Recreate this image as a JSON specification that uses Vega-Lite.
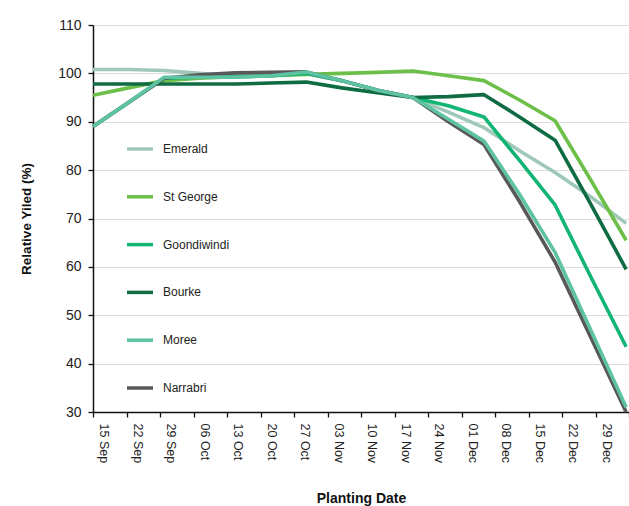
{
  "$schema": "https://vega.github.io/schema/vega-lite/v6.json",
  "width": 536,
  "height": 387,
  "autosize": {"type": "none"},
  "padding": {"left": 93, "top": 25, "right": 0, "bottom": 94},
  "background": "white",
  "config": {
    "font": "Liberation Sans",
    "view": {"stroke": null},
    "axis": {"labelFont": "Liberation Sans", "titleFont": "Liberation Sans", "labelColor": "#222", "titleColor": "#111"}
  },
  "datasets": {
    "yield": [
      {"site": "Emerald", "week": 0, "date": "15 Sep", "value": 100.8},
      {"site": "Emerald", "week": 1, "date": "22 Sep", "value": 100.8},
      {"site": "Emerald", "week": 2, "date": "29 Sep", "value": 100.6},
      {"site": "Emerald", "week": 3, "date": "06 Oct", "value": 100},
      {"site": "Emerald", "week": 4, "date": "13 Oct", "value": 99.5},
      {"site": "Emerald", "week": 5, "date": "20 Oct", "value": 99.5},
      {"site": "Emerald", "week": 6, "date": "27 Oct", "value": 100},
      {"site": "Emerald", "week": 7, "date": "03 Nov", "value": 98.5},
      {"site": "Emerald", "week": 8, "date": "10 Nov", "value": 96.5},
      {"site": "Emerald", "week": 9, "date": "17 Nov", "value": 95},
      {"site": "Emerald", "week": 10, "date": "24 Nov", "value": 92},
      {"site": "Emerald", "week": 11, "date": "01 Dec", "value": 88.8},
      {"site": "Emerald", "week": 12, "date": "08 Dec", "value": 84},
      {"site": "Emerald", "week": 13, "date": "15 Dec", "value": 79.5},
      {"site": "Emerald", "week": 14, "date": "22 Dec", "value": 74.5},
      {"site": "Emerald", "week": 15, "date": "29 Dec", "value": 69},

      {"site": "St George", "week": 0, "date": "15 Sep", "value": 95.5},
      {"site": "St George", "week": 1, "date": "22 Sep", "value": 97},
      {"site": "St George", "week": 2, "date": "29 Sep", "value": 98.5},
      {"site": "St George", "week": 3, "date": "06 Oct", "value": 99},
      {"site": "St George", "week": 4, "date": "13 Oct", "value": 99.3},
      {"site": "St George", "week": 5, "date": "20 Oct", "value": 99.5},
      {"site": "St George", "week": 6, "date": "27 Oct", "value": 99.8},
      {"site": "St George", "week": 7, "date": "03 Nov", "value": 100},
      {"site": "St George", "week": 8, "date": "10 Nov", "value": 100.2},
      {"site": "St George", "week": 9, "date": "17 Nov", "value": 100.5},
      {"site": "St George", "week": 10, "date": "24 Nov", "value": 99.5},
      {"site": "St George", "week": 11, "date": "01 Dec", "value": 98.5},
      {"site": "St George", "week": 12, "date": "08 Dec", "value": 94.5},
      {"site": "St George", "week": 13, "date": "15 Dec", "value": 90.2},
      {"site": "St George", "week": 14, "date": "22 Dec", "value": 78},
      {"site": "St George", "week": 15, "date": "29 Dec", "value": 65.5},

      {"site": "Goondiwindi", "week": 0, "date": "15 Sep", "value": 89},
      {"site": "Goondiwindi", "week": 1, "date": "22 Sep", "value": 94},
      {"site": "Goondiwindi", "week": 2, "date": "29 Sep", "value": 99},
      {"site": "Goondiwindi", "week": 3, "date": "06 Oct", "value": 99.2},
      {"site": "Goondiwindi", "week": 4, "date": "13 Oct", "value": 99.3},
      {"site": "Goondiwindi", "week": 5, "date": "20 Oct", "value": 99.5},
      {"site": "Goondiwindi", "week": 6, "date": "27 Oct", "value": 100},
      {"site": "Goondiwindi", "week": 7, "date": "03 Nov", "value": 98.5},
      {"site": "Goondiwindi", "week": 8, "date": "10 Nov", "value": 96.5},
      {"site": "Goondiwindi", "week": 9, "date": "17 Nov", "value": 95},
      {"site": "Goondiwindi", "week": 10, "date": "24 Nov", "value": 93.3},
      {"site": "Goondiwindi", "week": 11, "date": "01 Dec", "value": 91},
      {"site": "Goondiwindi", "week": 12, "date": "08 Dec", "value": 82},
      {"site": "Goondiwindi", "week": 13, "date": "15 Dec", "value": 72.8},
      {"site": "Goondiwindi", "week": 14, "date": "22 Dec", "value": 58},
      {"site": "Goondiwindi", "week": 15, "date": "29 Dec", "value": 43.5},

      {"site": "Bourke", "week": 0, "date": "15 Sep", "value": 97.8},
      {"site": "Bourke", "week": 1, "date": "22 Sep", "value": 97.8},
      {"site": "Bourke", "week": 2, "date": "29 Sep", "value": 97.8},
      {"site": "Bourke", "week": 3, "date": "06 Oct", "value": 97.8},
      {"site": "Bourke", "week": 4, "date": "13 Oct", "value": 97.8},
      {"site": "Bourke", "week": 5, "date": "20 Oct", "value": 98},
      {"site": "Bourke", "week": 6, "date": "27 Oct", "value": 98.2},
      {"site": "Bourke", "week": 7, "date": "03 Nov", "value": 97},
      {"site": "Bourke", "week": 8, "date": "10 Nov", "value": 96},
      {"site": "Bourke", "week": 9, "date": "17 Nov", "value": 95},
      {"site": "Bourke", "week": 10, "date": "24 Nov", "value": 95.2},
      {"site": "Bourke", "week": 11, "date": "01 Dec", "value": 95.6},
      {"site": "Bourke", "week": 12, "date": "08 Dec", "value": 91},
      {"site": "Bourke", "week": 13, "date": "15 Dec", "value": 86.2},
      {"site": "Bourke", "week": 14, "date": "22 Dec", "value": 73},
      {"site": "Bourke", "week": 15, "date": "29 Dec", "value": 59.5},

      {"site": "Narrabri", "week": 0, "date": "15 Sep", "value": 89},
      {"site": "Narrabri", "week": 1, "date": "22 Sep", "value": 94},
      {"site": "Narrabri", "week": 2, "date": "29 Sep", "value": 99},
      {"site": "Narrabri", "week": 3, "date": "06 Oct", "value": 99.7},
      {"site": "Narrabri", "week": 4, "date": "13 Oct", "value": 100.1},
      {"site": "Narrabri", "week": 5, "date": "20 Oct", "value": 100.2},
      {"site": "Narrabri", "week": 6, "date": "27 Oct", "value": 100.3},
      {"site": "Narrabri", "week": 7, "date": "03 Nov", "value": 98.5},
      {"site": "Narrabri", "week": 8, "date": "10 Nov", "value": 96.5},
      {"site": "Narrabri", "week": 9, "date": "17 Nov", "value": 95},
      {"site": "Narrabri", "week": 10, "date": "24 Nov", "value": 90},
      {"site": "Narrabri", "week": 11, "date": "01 Dec", "value": 85.3},
      {"site": "Narrabri", "week": 12, "date": "08 Dec", "value": 73.5},
      {"site": "Narrabri", "week": 13, "date": "15 Dec", "value": 61},
      {"site": "Narrabri", "week": 14, "date": "22 Dec", "value": 45.5},
      {"site": "Narrabri", "week": 15, "date": "29 Dec", "value": 30},

      {"site": "Moree", "week": 0, "date": "15 Sep", "value": 89},
      {"site": "Moree", "week": 1, "date": "22 Sep", "value": 94},
      {"site": "Moree", "week": 2, "date": "29 Sep", "value": 99.2},
      {"site": "Moree", "week": 3, "date": "06 Oct", "value": 99.2},
      {"site": "Moree", "week": 4, "date": "13 Oct", "value": 99.2},
      {"site": "Moree", "week": 5, "date": "20 Oct", "value": 99.5},
      {"site": "Moree", "week": 6, "date": "27 Oct", "value": 100.3},
      {"site": "Moree", "week": 7, "date": "03 Nov", "value": 98.5},
      {"site": "Moree", "week": 8, "date": "10 Nov", "value": 96.5},
      {"site": "Moree", "week": 9, "date": "17 Nov", "value": 95},
      {"site": "Moree", "week": 10, "date": "24 Nov", "value": 90.5},
      {"site": "Moree", "week": 11, "date": "01 Dec", "value": 86},
      {"site": "Moree", "week": 12, "date": "08 Dec", "value": 75},
      {"site": "Moree", "week": 13, "date": "15 Dec", "value": 63},
      {"site": "Moree", "week": 14, "date": "22 Dec", "value": 47},
      {"site": "Moree", "week": 15, "date": "29 Dec", "value": 31}
    ]
  },
  "data": {"name": "yield"},
  "layer": [
    {
      "mark": {"type": "point", "opacity": 0},
      "encoding": {
        "x": {
          "field": "date",
          "type": "ordinal",
          "scale": {
            "type": "band",
            "paddingInner": 0,
            "paddingOuter": 0,
            "domain": ["15 Sep", "22 Sep", "29 Sep", "06 Oct", "13 Oct", "20 Oct", "27 Oct", "03 Nov", "10 Nov", "17 Nov", "24 Nov", "01 Dec", "08 Dec", "15 Dec", "22 Dec", "29 Dec"]
          },
          "axis": {
            "orient": "bottom",
            "title": "Planting Date",
            "titleFontSize": 14,
            "titleFontWeight": "bold",
            "titlePadding": 29,
            "labelAngle": 90,
            "labelAlign": "left",
            "labelBaseline": "middle",
            "labelFontSize": 12.5,
            "labelOffset": -6,
            "labelPadding": 6,
            "tickBand": "extent",
            "tickSize": 5,
            "tickColor": "#111",
            "tickWidth": 1.3,
            "domainColor": "#111",
            "domainWidth": 1.5,
            "grid": false
          }
        },
        "y": {"field": "value", "type": "quantitative"}
      }
    },
    {
      "mark": {"type": "line", "strokeWidth": 3.6, "strokeJoin": "round"},
      "encoding": {
        "x": {
          "field": "week",
          "type": "quantitative",
          "scale": {"domain": [0, 15.08], "nice": false, "zero": false},
          "axis": null
        },
        "y": {
          "field": "value",
          "type": "quantitative",
          "scale": {"domain": [30, 110], "nice": false, "zero": false},
          "axis": {
            "title": "Relative Yiled (%)",
            "titleFontSize": 13.5,
            "titleFontWeight": "bold",
            "titlePadding": 24,
            "values": [30, 40, 50, 60, 70, 80, 90, 100, 110],
            "labelFontSize": 14,
            "labelPadding": 7,
            "tickSize": 5,
            "tickColor": "#111",
            "tickWidth": 1.3,
            "domainColor": "#111",
            "domainWidth": 1.5,
            "grid": true,
            "gridColor": "#dcdcdc",
            "gridWidth": 1
          }
        },
        "color": {
          "field": "site",
          "type": "nominal",
          "scale": {
            "domain": ["Emerald", "St George", "Goondiwindi", "Bourke", "Moree", "Narrabri"],
            "range": ["#a0c8b8", "#6cc04a", "#12b573", "#0e6b42", "#5ec3a3", "#58585a"]
          },
          "legend": {
            "title": null,
            "orient": "none",
            "legendX": 32,
            "legendY": 109,
            "padding": 0,
            "symbolType": "stroke",
            "symbolSize": 676,
            "symbolStrokeWidth": 3.5,
            "labelFontSize": 12,
            "labelColor": "#222",
            "labelOffset": 8,
            "rowPadding": 25.8
          }
        },
        "order": {"field": "week"}
      }
    }
  ],
  "resolve": {"scale": {"x": "independent"}, "axis": {"x": "independent"}}
}
